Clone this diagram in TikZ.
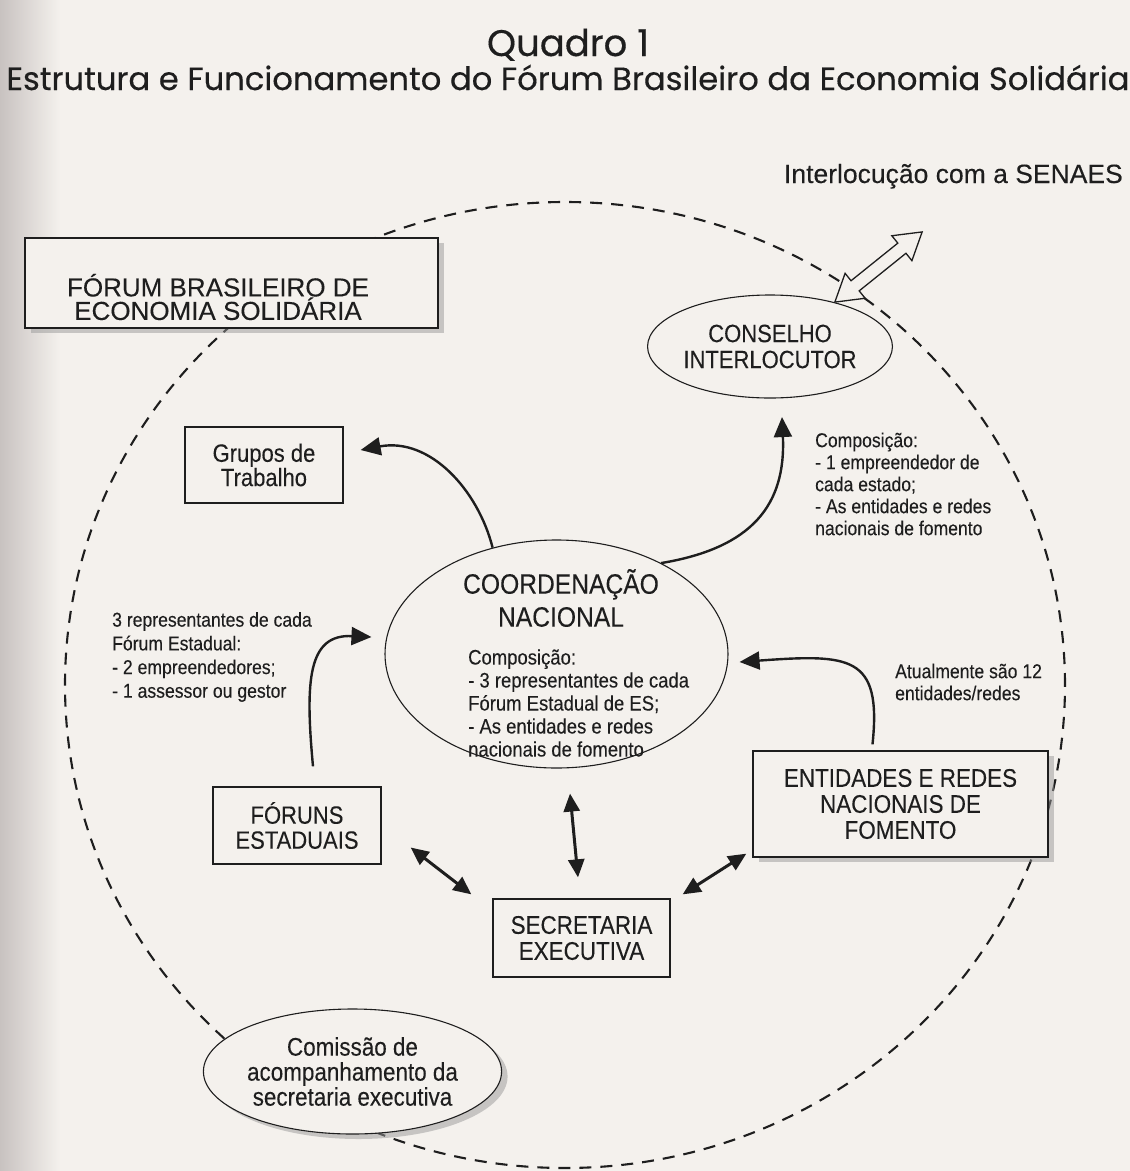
\documentclass[tikz,border=0pt]{standalone}
\usepackage{fontspec}
\setmainfont[FakeBold=0.15]{Liberation Sans}
\newfontfamily\labfont[FakeStretch=0.88,FakeBold=0.15]{Liberation Sans}
\newfontfamily\titlefont[FakeBold=0.35]{Poppins}
\usetikzlibrary{arrows.meta,shapes.geometric,shadows,calc}
\definecolor{paper}{RGB}{244,241,237}
\definecolor{ink}{RGB}{30,30,30}
\definecolor{paperedge}{RGB}{200,194,192}
\begin{document}
\begin{tikzpicture}[x=1pt,y=-1pt,
  lab/.style={text=ink, inner sep=0pt, align=center, font=\labfont\fontsize{25.5}{26}\selectfont},
  boxnode/.style={lab, draw=ink, line width=1.3pt, fill=paper, rectangle},
  ellnode/.style={lab, draw=ink, line width=1.1pt, fill=paper, ellipse},
  note/.style={text=ink, inner sep=0pt, align=left, anchor=west, font=\labfont\fontsize{20}{23.7}\selectfont},
  shadowed/.style={drop shadow={shadow xshift=6pt, shadow yshift=-5pt, fill=black!40, opacity=0.5}},
  curvearrow/.style={draw=ink, line width=2.4pt, -{Triangle[length=20pt,width=18pt]}},
  dblarrow/.style={draw=ink, line width=3pt, {Triangle[length=18pt,width=16pt]}-{Triangle[length=18pt,width=16pt]}},
  boundary/.style={draw=ink, line width=2.1pt, dash pattern=on 12pt off 9pt},
]
% page
\useasboundingbox (0,0) rectangle (1130,1171);
\fill[paper] (0,0) rectangle (1130,1171);
\shade[left color=paperedge, right color=paper] (0,0) rectangle (60,1171);

% dashed boundary of the forum
\draw[boundary] (565,685) ellipse [x radius=500pt, y radius=483pt];

% title
\node[text=ink, inner sep=0pt, anchor=base, font=\titlefont\fontsize{37}{40}\selectfont] (quadro) at (568,56) {Quadro 1};
\node[text=ink, inner sep=0pt, anchor=base, font=\titlefont\fontsize{32.2}{36}\selectfont] (subtitle) at (568,90) {Estrutura e Funcionamento do Fórum Brasileiro da Economia Solidária};

% nodes
\node[boxnode, shadowed, minimum width=413pt, minimum height=90pt] (forum) at (231.5,283) {};
\node[text=ink, inner sep=0pt, align=center, font=\fontsize{26}{23.5}\selectfont] (forumtext) at (218,297) {FÓRUM BRASILEIRO DE\\ECONOMIA SOLIDÁRIA};

\node[text=ink, inner sep=0pt, anchor=base east, font=\fontsize{26.5}{30}\selectfont] (senaes) at (1123,183) {Interlocução com a SENAES};

\node[ellnode, minimum width=204pt, minimum height=103pt, font=\labfont\fontsize{25}{26}\selectfont] (conselho) at (770,346.5) {CONSELHO\\INTERLOCUTOR};

\node[boxnode, minimum width=158pt, minimum height=76pt, font=\labfont\fontsize{25}{23}\selectfont] (grupos) at (264,465) {Grupos de\\Trabalho};

\node[note, font=\labfont\fontsize{20}{22}\selectfont] (conscomp) at (815,484) {Composição:\\- 1 empreendedor de\\cada estado;\\- As entidades e redes\\nacionais de fomento};

\node[ellnode, minimum width=343pt, minimum height=228pt] (coord) at (556.5,654) {};
\node[lab, font=\labfont\fontsize{28}{33}\selectfont] (coordtitle) at (561,598) {COORDENAÇÃO\\NACIONAL};
\node[note, font=\labfont\fontsize{21}{23}\selectfont] (coordcomp) at (468,703) {Composição:\\- 3 representantes de cada\\Fórum Estadual de ES;\\- As entidades e redes\\nacionais de fomento};

\node[note] (fortext) at (112,657) {3 representantes de cada\\Fórum Estadual:\\- 2 empreendedores;\\- 1 assessor ou gestor};

\node[note, font=\labfont\fontsize{20}{22}\selectfont] (atual) at (895,682) {Atualmente são 12\\entidades/redes};

\node[boxnode, minimum width=168pt, minimum height=77pt, font=\labfont\fontsize{25}{25}\selectfont] (foruns) at (297,825.5) {FÓRUNS\\ESTADUAIS};

\node[boxnode, shadowed, minimum width=295pt, minimum height=106pt] (entidades) at (900.5,804) {ENTIDADES E REDES\\NACIONAIS DE\\FOMENTO};

\node[boxnode, minimum width=177pt, minimum height=78pt] (secretaria) at (581.5,938) {SECRETARIA\\EXECUTIVA};

\node[ellnode, shadowed, minimum width=255pt, minimum height=125pt, font=\labfont\fontsize{25.5}{25}\selectfont] (comissao) at (352.5,1071.5) {Comissão de\\acompanhamento da\\secretaria executiva};

% curved arrows
\draw[curvearrow] (coord.121) .. controls (478,490) and (430,437) .. ($(grupos.east)+(17,-15)$);
\draw[curvearrow] (coord.41) .. controls (752,548) and (786,505) .. ($(conselho.south)+(12,18.5)$);
\draw[curvearrow] ($(foruns.north)+(16,-20)$) .. controls (305,680) and (308,634) .. ($(coord.west)+(-13,-17)$);
\draw[curvearrow] ($(entidades.north)+(-28,-6)$) .. controls (882,655) and (850,654) .. ($(coord.east)+(11,8)$);

% double arrows
\draw[dblarrow] ($(foruns.east)+(29,22)$) -- ($(secretaria.north west)+(-21,-4)$);
\draw[dblarrow] ($(coord.south)+(13.5,25)$) -- ($(secretaria.north)+(-3.5,-21)$);
\draw[dblarrow] ($(secretaria.north east)+(12,-4)$) -- ($(entidades.south west)+(-6,-4)$);

% hollow double arrow towards SENAES
\begin{scope}[shift={(878.5,267)}, rotate=38.8]
\filldraw[fill=paper, draw=ink, line width=1.3pt, line join=miter]
  (-56,0) -- (-30,-16) -- (-30,-6.5) -- (30,-6.5) -- (30,-16) -- (56,0)
  -- (30,16) -- (30,6.5) -- (-30,6.5) -- (-30,16) -- cycle;
\end{scope}
\end{tikzpicture}
\end{document}
